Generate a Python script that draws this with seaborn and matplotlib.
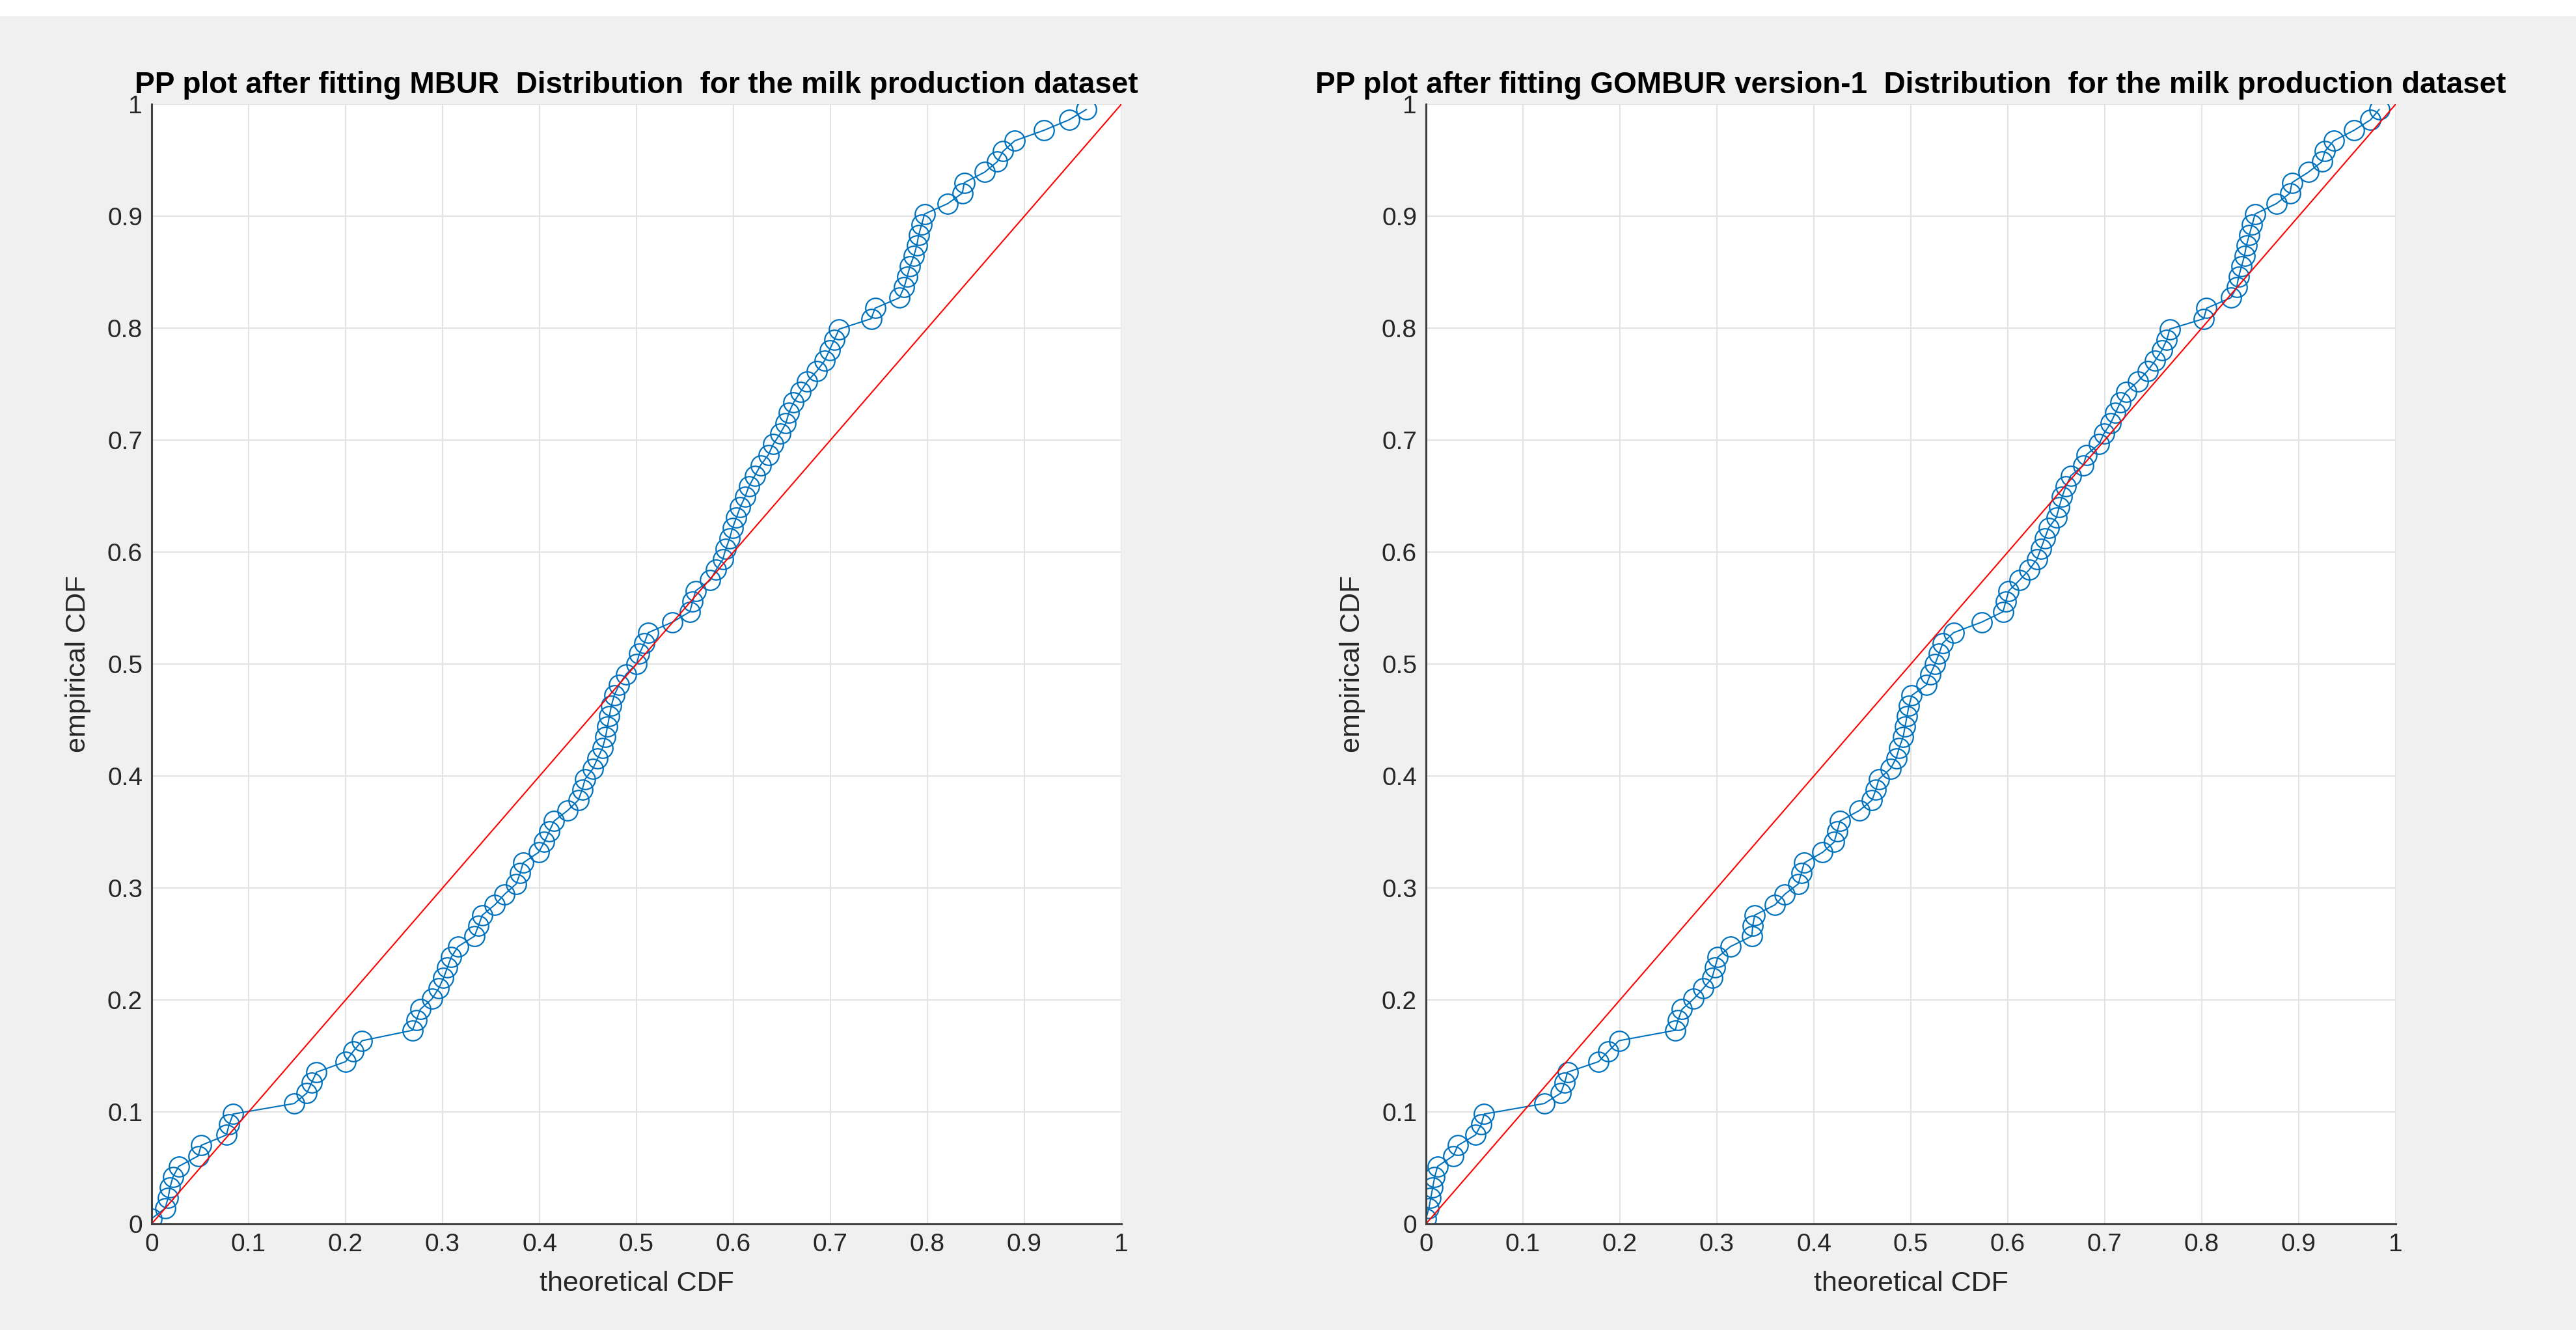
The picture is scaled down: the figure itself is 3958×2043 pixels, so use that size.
import matplotlib
matplotlib.use("Agg")
import matplotlib.pyplot as plt
from matplotlib.patches import Rectangle
import pandas as pd
import seaborn as sns

# Empirical CDF levels (shared by both panels)
empirical_cdf = [
    0.0047, 0.0140, 0.0234, 0.0327, 0.0421, 0.0514, 0.0607, 0.0701, 0.0794, 0.0888,
    0.0981, 0.1075, 0.1168, 0.1262, 0.1355, 0.1449, 0.1542, 0.1636, 0.1729, 0.1822,
    0.1916, 0.2009, 0.2103, 0.2196, 0.2290, 0.2383, 0.2477, 0.2570, 0.2664, 0.2757,
    0.2850, 0.2944, 0.3037, 0.3131, 0.3224, 0.3318, 0.3411, 0.3505, 0.3598, 0.3692,
    0.3785, 0.3879, 0.3972, 0.4065, 0.4159, 0.4252, 0.4346, 0.4439, 0.4533, 0.4626,
    0.4720, 0.4813, 0.4907, 0.5000, 0.5093, 0.5187, 0.5280, 0.5374, 0.5467, 0.5561,
    0.5654, 0.5748, 0.5841, 0.5935, 0.6028, 0.6121, 0.6215, 0.6308, 0.6402, 0.6495,
    0.6589, 0.6682, 0.6776, 0.6869, 0.6963, 0.7056, 0.7150, 0.7243, 0.7336, 0.7430,
    0.7523, 0.7617, 0.7710, 0.7804, 0.7897, 0.7991, 0.8084, 0.8178, 0.8271, 0.8364,
    0.8458, 0.8551, 0.8645, 0.8738, 0.8832, 0.8925, 0.9019, 0.9112, 0.9206, 0.9299,
    0.9393, 0.9486, 0.9579, 0.9673, 0.9766, 0.9860, 0.9953,
]

# Theoretical CDF, MBUR fit
mbur_cdf = [
    0.000, 0.014, 0.017, 0.019, 0.022, 0.028, 0.048, 0.051, 0.077, 0.080,
    0.084, 0.147, 0.160, 0.165, 0.170, 0.200, 0.208, 0.217, 0.269, 0.273,
    0.277, 0.289, 0.296, 0.301, 0.305, 0.309, 0.316, 0.333, 0.337, 0.341,
    0.354, 0.364, 0.376, 0.380, 0.383, 0.399, 0.405, 0.410, 0.415, 0.429,
    0.440, 0.444, 0.447, 0.455, 0.460, 0.465, 0.468, 0.470, 0.472, 0.474,
    0.477, 0.482, 0.489, 0.500, 0.503, 0.508, 0.512, 0.537, 0.555, 0.558,
    0.561, 0.576, 0.582, 0.589, 0.592, 0.596, 0.599, 0.603, 0.607, 0.612,
    0.616, 0.622, 0.628, 0.636, 0.641, 0.648, 0.654, 0.657, 0.662, 0.669,
    0.676, 0.686, 0.694, 0.699, 0.704, 0.709, 0.742, 0.746, 0.771, 0.776,
    0.779, 0.782, 0.786, 0.789, 0.791, 0.794, 0.797, 0.821, 0.836, 0.838,
    0.859, 0.872, 0.878, 0.890, 0.920, 0.946, 0.964,
]

# Theoretical CDF, GOMBUR version-1 fit
gombur_cdf = [
    0.000, 0.003, 0.005, 0.007, 0.009, 0.012, 0.028, 0.033, 0.051, 0.057,
    0.060, 0.122, 0.139, 0.143, 0.146, 0.178, 0.188, 0.199, 0.257, 0.260,
    0.264, 0.276, 0.286, 0.295, 0.298, 0.301, 0.314, 0.336, 0.337, 0.339,
    0.360, 0.370, 0.384, 0.387, 0.390, 0.409, 0.421, 0.424, 0.427, 0.447,
    0.460, 0.464, 0.467, 0.479, 0.485, 0.488, 0.492, 0.494, 0.496, 0.498,
    0.501, 0.516, 0.520, 0.525, 0.529, 0.533, 0.544, 0.573, 0.595, 0.598,
    0.601, 0.612, 0.622, 0.630, 0.634, 0.638, 0.642, 0.650, 0.653, 0.656,
    0.660, 0.665, 0.678, 0.681, 0.694, 0.699, 0.706, 0.711, 0.716, 0.722,
    0.734, 0.744, 0.752, 0.759, 0.764, 0.767, 0.802, 0.805, 0.830, 0.836,
    0.838, 0.841, 0.844, 0.846, 0.849, 0.852, 0.855, 0.877, 0.891, 0.893,
    0.910, 0.924, 0.927, 0.936, 0.957, 0.974, 0.983,
]

ref_line = [0, 1]
ticks = [0, 0.1, 0.2, 0.3, 0.4, 0.5, 0.6, 0.7, 0.8, 0.9, 1]
tick_labels = ["0", "0.1", "0.2", "0.3", "0.4", "0.5", "0.6", "0.7", "0.8", "0.9", "1"]

titles = [
    "PP plot after fitting MBUR  Distribution  for the milk production dataset",
    "PP plot after fitting GOMBUR version-1  Distribution  for the milk production dataset",
]

sns.set_style("white")
plt.rcParams["font.family"] = ["Liberation Sans", "DejaVu Sans"]

fig = plt.figure(figsize=(39.58, 20.43), dpi=100, facecolor="#f0f0f0")
fig.patches.append(Rectangle((0, 1 - 25 / 2043), 1, 25 / 2043, transform=fig.transFigure,
                             facecolor="white", edgecolor="none", zorder=0))

lefts = [233 / 3958, 2191 / 3958]
panels = [mbur_cdf, gombur_cdf]

for left, theo, title in zip(lefts, panels, titles):
    ax = fig.add_axes([left, 163 / 2043, 1490 / 3958, 1720 / 2043])
    df = pd.DataFrame({"theoretical": theo, "empirical": empirical_cdf})
    sns.lineplot(data=df, x="theoretical", y="empirical", ax=ax, sort=False, estimator=None,
                 color="#0072BD", linewidth=1.5, marker="o", markersize=22,
                 markerfacecolor="none", markeredgecolor="#0072BD", markeredgewidth=1.6)
    sns.lineplot(x=ref_line, y=ref_line, ax=ax, color="#ff0000", linewidth=1.5)

    ax.set_xlim(0, 1)
    ax.set_ylim(0, 1)
    ax.set_xticks(ticks)
    ax.set_yticks(ticks)
    ax.set_xticklabels(tick_labels)
    ax.set_yticklabels(tick_labels)
    ax.grid(True, color="#e3e3e3", linewidth=1.5)
    ax.set_axisbelow(True)
    ax.set_facecolor("white")
    for side in ["top", "right"]:
        ax.spines[side].set_visible(False)
    for side in ["left", "bottom"]:
        ax.spines[side].set_color("#404040")
        ax.spines[side].set_linewidth(2.2)
    ax.tick_params(direction="in", length=13, width=1.8, colors="#262626",
                   labelsize=28, pad=10)
    ax.set_xlabel("theoretical CDF", fontsize=31, color="#262626", labelpad=16)
    ax.set_ylabel("empirical CDF", fontsize=31, color="#262626", labelpad=18)
    ax.set_title(title, fontsize=33, fontweight="bold", color="black", pad=12)

fig.savefig("out.png", dpi=100, facecolor=fig.get_facecolor())
